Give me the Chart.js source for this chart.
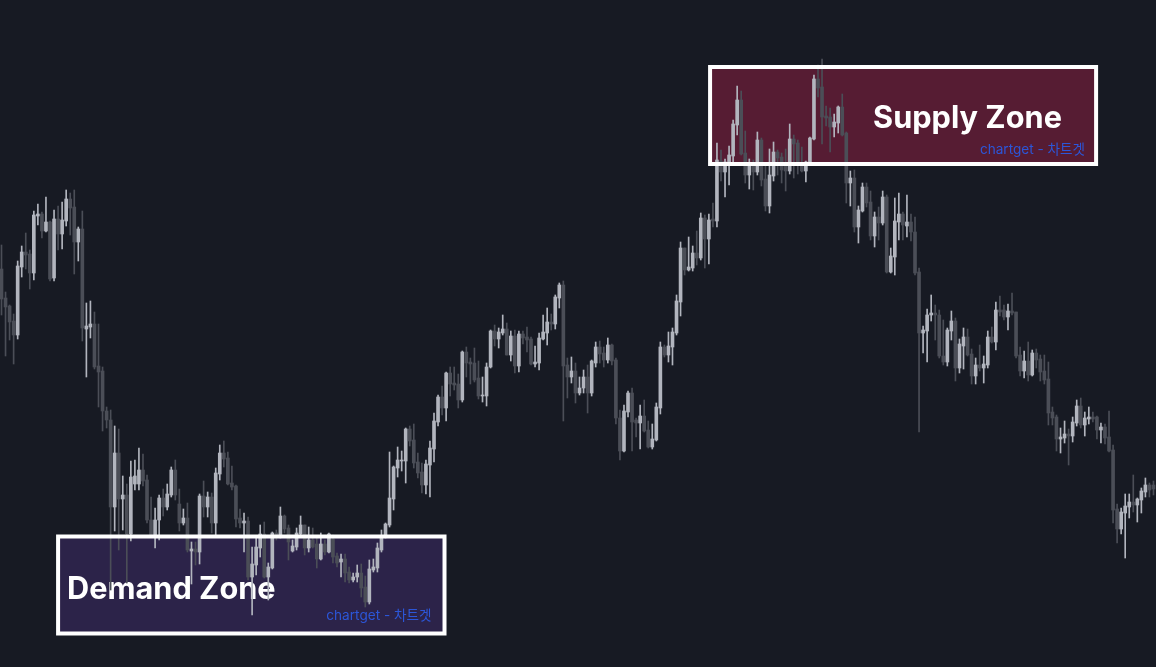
<!DOCTYPE html>
<html>
<head>
<meta charset="utf-8">
<title>Supply / Demand Zones</title>
<script src="https://cdn.jsdelivr.net/npm/chart.js@4.4.1/dist/chart.umd.min.js"></script>
<style>
  html, body { margin: 0; padding: 0; background: #171a23; }
  #wrap { width: 1156px; height: 667px; position: relative; }
</style>
</head>
<body>
<div id="wrap"><canvas id="priceChart"></canvas></div>
<script>
// OHLC values, one candle per entry
const opens = [
  398, 369, 361, 346, 332, 400, 415, 413, 394, 451,
  453, 436, 445, 389, 448, 433, 446, 468, 460, 425,
  438, 338, 340, 343, 301, 296, 256, 247, 160, 214,
  168, 172, 133, 183, 183, 197, 187, 147, 132, 147,
  169, 160, 172, 197, 163, 144, 149, 116, 118, 115,
  171, 160, 170, 144, 193, 214, 209, 184, 181, 149,
  144, 146, 90, 102, 119, 133, 90, 99, 134, 130,
  151, 139, 116, 120, 133, 142, 119, 127, 123, 108,
  123, 115, 128, 111, 105, 108, 95, 87, 90, 94,
  80, 65, 97, 99, 117, 130, 142, 168, 199, 206,
  206, 238, 227, 205, 195, 182, 202, 218, 245, 270,
  259, 294, 284, 283, 267, 315, 305, 304, 289, 271,
  271, 300, 336, 328, 334, 338, 312, 331, 301, 333,
  330, 328, 303, 304, 328, 334, 345, 343, 369, 382,
  302, 290, 296, 274, 279, 290, 274, 304, 320, 314,
  307, 322, 307, 249, 216, 255, 274, 247, 244, 251,
  237, 220, 227, 259, 320, 312, 320, 334, 365, 419,
  397, 399, 414, 409, 449, 428, 448, 446, 506, 495,
  505, 511, 542, 567, 514, 492, 502, 495, 527, 488,
  461, 491, 515, 510, 502, 496, 528, 524, 503, 496,
  504, 528, 588, 580, 551, 550, 540, 544, 560, 534,
  484, 489, 440, 456, 480, 465, 431, 450, 444, 470,
  395, 410, 445, 453, 441, 445, 435, 395, 334, 336,
  352, 354, 352, 311, 305, 336, 346, 299, 321, 330,
  313, 291, 302, 299, 302, 330, 325, 357, 357, 350,
  356, 355, 312, 296, 306, 292, 314, 308, 296, 288,
  255, 250, 228, 229, 233, 231, 244, 261, 242, 248,
  250, 250, 237, 240, 230, 217, 158, 138, 154, 160,
  165, 162, 167, 175, 182, 182
];
const highs = [
  422, 375, 362, 353, 406, 421, 434, 417, 456, 463,
  455, 470, 446, 457, 461, 465, 477, 474, 477, 440,
  456, 364, 366, 355, 343, 300, 260, 257, 241, 238,
  191, 183, 206, 207, 219, 213, 192, 170, 159, 172,
  178, 183, 200, 207, 178, 158, 164, 125, 125, 173,
  186, 175, 174, 199, 222, 226, 215, 201, 182, 158,
  154, 150, 120, 130, 142, 145, 104, 135, 137, 160,
  152, 142, 127, 139, 151, 142, 140, 139, 130, 134,
  127, 134, 132, 114, 113, 113, 100, 94, 102, 103,
  91, 107, 108, 124, 137, 144, 215, 201, 220, 216,
  239, 241, 243, 214, 204, 207, 226, 254, 272, 281,
  295, 300, 300, 293, 316, 320, 309, 319, 306, 290,
  304, 337, 342, 339, 352, 344, 336, 337, 336, 336,
  340, 330, 321, 334, 352, 359, 353, 372, 384, 386,
  309, 310, 304, 290, 297, 302, 307, 325, 326, 320,
  329, 323, 309, 257, 262, 276, 279, 249, 262, 267,
  246, 243, 264, 325, 322, 335, 339, 372, 425, 419,
  430, 421, 436, 454, 452, 453, 464, 524, 517, 508,
  521, 547, 581, 576, 536, 508, 507, 535, 529, 502,
  518, 525, 517, 514, 518, 543, 532, 527, 520, 506,
  530, 592, 602, 608, 561, 559, 553, 561, 573, 535,
  496, 497, 461, 484, 484, 476, 455, 460, 476, 472,
  419, 469, 474, 455, 472, 453, 450, 399, 341, 358,
  372, 362, 357, 347, 339, 356, 349, 328, 339, 338,
  318, 309, 322, 311, 336, 340, 365, 371, 362, 363,
  374, 355, 320, 316, 325, 317, 318, 312, 312, 305,
  260, 252, 239, 246, 238, 250, 267, 269, 255, 260,
  255, 251, 244, 243, 256, 222, 163, 159, 173, 173,
  192, 169, 179, 189, 184, 186
];
const lows = [
  352, 311, 327, 303, 328, 390, 398, 378, 387, 442,
  429, 435, 386, 386, 417, 418, 441, 432, 393, 406,
  326, 290, 329, 298, 260, 236, 239, 77, 136, 117,
  137, 84, 126, 177, 177, 181, 144, 130, 119, 127,
  151, 157, 170, 167, 136, 142, 115, 83, 102, 103,
  150, 150, 134, 132, 187, 200, 182, 177, 140, 139,
  115, 87, 52, 92, 110, 89, 67, 98, 127, 129,
  134, 107, 115, 117, 130, 112, 115, 119, 99, 107,
  112, 114, 104, 100, 90, 85, 84, 85, 85, 70,
  60, 63, 95, 95, 115, 129, 140, 157, 190, 196,
  184, 221, 199, 189, 174, 173, 170, 205, 241, 252,
  246, 271, 277, 259, 265, 290, 283, 285, 268, 265,
  261, 299, 321, 319, 332, 312, 306, 294, 295, 323,
  315, 302, 300, 297, 327, 322, 337, 338, 359, 246,
  269, 284, 264, 272, 274, 254, 271, 300, 304, 300,
  304, 302, 243, 207, 215, 250, 216, 230, 218, 235,
  219, 218, 226, 253, 310, 305, 302, 332, 351, 392,
  396, 396, 402, 407, 399, 403, 440, 440, 486, 470,
  482, 502, 532, 512, 484, 478, 477, 492, 481, 456,
  454, 486, 492, 484, 476, 493, 489, 493, 495, 485,
  502, 527, 570, 523, 541, 515, 530, 534, 531, 464,
  461, 435, 424, 455, 460, 427, 420, 427, 442, 394,
  394, 392, 427, 427, 430, 426, 392, 235, 314, 305,
  346, 327, 309, 302, 301, 327, 286, 294, 298, 311,
  283, 283, 296, 284, 299, 324, 317, 351, 347, 337,
  352, 309, 291, 289, 286, 291, 299, 286, 283, 242,
  242, 216, 214, 224, 202, 225, 241, 239, 231, 243,
  245, 228, 224, 223, 215, 144, 124, 133, 109, 149,
  155, 145, 154, 170, 170, 172
];
const closes = [
  368, 360, 345, 332, 401, 415, 412, 394, 452, 453,
  436, 445, 388, 448, 433, 447, 468, 459, 425, 438,
  339, 341, 343, 300, 295, 256, 247, 160, 214, 168,
  172, 133, 190, 191, 197, 186, 147, 132, 147, 169,
  160, 173, 197, 172, 144, 149, 117, 118, 115, 171,
  160, 170, 144, 194, 214, 208, 183, 180, 148, 144,
  146, 90, 103, 120, 133, 90, 100, 134, 130, 151,
  138, 125, 121, 134, 142, 119, 127, 120, 108, 123,
  115, 133, 110, 104, 108, 94, 87, 90, 94, 79,
  65, 98, 100, 119, 130, 143, 169, 200, 207, 207,
  238, 226, 204, 194, 182, 203, 219, 246, 270, 259,
  294, 283, 282, 267, 315, 304, 303, 287, 271, 272,
  300, 336, 328, 335, 338, 312, 331, 301, 333, 329,
  327, 303, 305, 329, 335, 345, 343, 370, 382, 301,
  290, 296, 274, 279, 290, 274, 306, 320, 313, 307,
  322, 306, 249, 216, 256, 274, 245, 244, 251, 236,
  220, 228, 260, 320, 312, 321, 335, 366, 419, 397,
  400, 414, 409, 449, 428, 447, 446, 507, 495, 505,
  512, 543, 567, 513, 492, 502, 495, 527, 487, 461,
  492, 515, 509, 497, 496, 528, 523, 502, 496, 505,
  529, 588, 579, 550, 549, 540, 545, 560, 532, 484,
  489, 440, 457, 480, 464, 431, 450, 444, 470, 395,
  411, 446, 453, 442, 445, 435, 394, 334, 337, 352,
  354, 352, 311, 305, 337, 346, 299, 323, 330, 312,
  291, 302, 299, 303, 330, 325, 357, 355, 350, 356,
  354, 311, 296, 306, 292, 314, 307, 295, 287, 254,
  249, 228, 230, 233, 231, 245, 261, 242, 249, 250,
  248, 237, 240, 229, 216, 157, 138, 155, 161, 165,
  162, 168, 176, 182, 177, 178
];

// zones: candle index range and price range, plus their labels
const zoneTitles = ['Demand Zone', 'Supply Zone'];
const zoneFrom = [14.0, 175.3];
const zoneTo = [109.6, 270.8];
const zoneHigh = [130.5, 600];
const zoneLow = [33.5, 503];
const watermark = 'chartget - 차트겟';

const UP = '#b2b5be';
const DOWN = '#4b4e57';

const zoneStyles = [
  { fill: '#2c2349', titleDx: 9, titleDy: -35, markDx: -13, markDy: -14 },
  { fill: '#561c33', titleDx: 163, titleDy: -36, markDx: -11, markDy: -10 },
];

const idx = opens.map((o, i) => i);
const candleColors = idx.map((i) => (closes[i] >= opens[i] ? UP : DOWN));

const zonePlugin = {
  id: 'zones',
  beforeDatasetsDraw(chart) {
    const ctx = chart.ctx;
    const xs = chart.scales.x;
    const ys = chart.scales.y;
    ctx.save();
    for (let z = 0; z < zoneTitles.length; z++) {
      const st = zoneStyles[z];
      const left = xs.getPixelForValue(zoneFrom[z]);
      const right = xs.getPixelForValue(zoneTo[z]);
      const top = ys.getPixelForValue(zoneHigh[z]);
      const bottom = ys.getPixelForValue(zoneLow[z]);
      ctx.fillStyle = st.fill;
      ctx.fillRect(left, top, right - left, bottom - top);

      ctx.fillStyle = '#ffffff';
      ctx.font = 'bold 30.7px Inter, "Noto Sans", sans-serif';
      ctx.textAlign = 'left';
      ctx.textBaseline = 'alphabetic';
      ctx.fillText(zoneTitles[z], left + st.titleDx, bottom + st.titleDy);

      ctx.fillStyle = '#2c56d8';
      ctx.font = '13.6px Inter, "Noto Sans CJK KR", sans-serif';
      ctx.textAlign = 'right';
      ctx.fillText(watermark, right + st.markDx, bottom + st.markDy);
    }
    ctx.restore();
  },
  afterDatasetsDraw(chart) {
    const ctx = chart.ctx;
    const xs = chart.scales.x;
    const ys = chart.scales.y;
    ctx.save();
    ctx.strokeStyle = '#ffffff';
    ctx.lineWidth = 4;
    for (let z = 0; z < zoneTitles.length; z++) {
      const left = xs.getPixelForValue(zoneFrom[z]);
      const right = xs.getPixelForValue(zoneTo[z]);
      const top = ys.getPixelForValue(zoneHigh[z]);
      const bottom = ys.getPixelForValue(zoneLow[z]);
      ctx.strokeRect(left, top, right - left, bottom - top);
    }
    ctx.restore();
  },
};

const ctx = document.getElementById('priceChart').getContext('2d');
new Chart(ctx, {
  type: 'bar',
  data: {
    datasets: [
      {
        label: 'Body',
        data: idx.map((i) => ({ x: i, y: [opens[i], closes[i]] })),
        backgroundColor: candleColors,
        barThickness: 3,
        minBarLength: 1,
        grouped: false,
      },
      {
        label: 'Wick',
        data: idx.map((i) => ({ x: i, y: [lows[i], highs[i]] })),
        backgroundColor: candleColors,
        barThickness: 1,
        grouped: false,
      },
    ],
  },
  options: {
    responsive: true,
    maintainAspectRatio: false,
    animation: false,
    layout: { padding: 0 },
    plugins: {
      legend: { display: false },
      tooltip: { enabled: false },
    },
    scales: {
      x: {
        type: 'linear',
        display: false,
        min: -0.371,
        max: 285.62,
        offset: false,
      },
      y: {
        display: false,
        min: 0,
        max: 667,
      },
    },
  },
  plugins: [zonePlugin],
});
</script>
</body>
</html>
